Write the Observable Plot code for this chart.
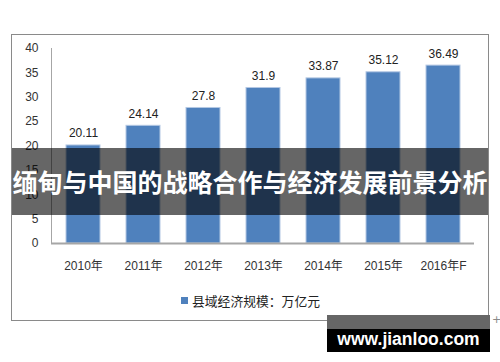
<!DOCTYPE html>
<html>
<head>
<meta charset="utf-8">
<script src="https://cdn.jsdelivr.net/npm/d3@7"></script>
<script src="https://cdn.jsdelivr.net/npm/@observablehq/plot@0.6"></script>
<style>
  html, body { margin: 0; padding: 0; background: #fff; }
  #wrap { position: relative; width: 500px; height: 362px; overflow: hidden; font-family: "Liberation Sans", "Noto Sans CJK SC", sans-serif; }
  #wrap svg { position: absolute; left: 0; top: 0; }
  .box { position: absolute; left: 11px; top: 34px; width: 478px; height: 287px; border: 1px solid #8a8a8a; box-sizing: border-box; }
  .legend { position: absolute; left: 181px; top: 291px; height: 18px; display: flex; align-items: center; font-size: 12.8px; color: #222; font-family: "Noto Sans CJK SC", sans-serif; white-space: nowrap; }
  .legend .sw { width: 7px; height: 7px; background: #4f81bd; margin-right: 4px; }
  .banner { position: absolute; left: 12px; top: 148px; width: 476px; height: 67px; background: rgba(0,0,0,0.6); color: #fff; font-family: "Noto Sans CJK SC", sans-serif; font-weight: bold; font-size: 25px; line-height: 67px; text-align: center; white-space: nowrap; letter-spacing: 0px; }
  .wm-top { position: absolute; left: 327px; top: 315px; width: 163px; height: 14px; background: #666; }
  .wm { position: absolute; left: 327px; top: 329px; width: 163px; height: 23px; background: #000; color: #fff; font-family: "Liberation Sans", sans-serif; font-weight: bold; font-size: 17.5px; line-height: 20px; text-align: center; white-space: nowrap; }
  .plus { position: absolute; left: 492px; top: 313px; font-size: 11px; color: #888; font-family: "DejaVu Sans", sans-serif; }
</style>
</head>
<body>
<div id="wrap"></div>
<script>
const years = ["2010年", "2011年", "2012年", "2013年", "2014年", "2015年", "2016年F"];
const values = [20.11, 24.14, 27.8, 31.9, 33.87, 35.12, 36.49];
const valueLabels = ["20.11", "24.14", "27.8", "31.9", "33.87", "35.12", "36.49"];
const yTicks = [0, 5, 10, 15, 20, 25, 30, 35, 40];
const legendLabel = "县域经济规模：万亿元";
const titleText = "缅甸与中国的战略合作与经济发展前景分析";
const watermarkText = "www.jianloo.com";

const data = years.map((y, i) => ({year: y, value: values[i], label: valueLabels[i]}));

const wrap = document.getElementById("wrap");

const box = document.createElement("div");
box.className = "box";
wrap.appendChild(box);

const chart = Plot.plot({
  width: 500,
  height: 362,
  marginTop: 48,
  marginBottom: 119,
  marginLeft: 51,
  marginRight: 26,
  style: {fontSize: "12px", fontFamily: "'Liberation Sans', 'Noto Sans CJK SC', sans-serif", color: "#333", background: "transparent", overflow: "visible"},
  x: {domain: years, paddingInner: 0.435, paddingOuter: 0.233, label: null},
  y: {domain: [0, 40], label: null},
  marks: [
    Plot.barY(data, {x: "year", y: "value", fill: "#4f81bd", stroke: "#b4c8e3", strokeWidth: 1}),
    Plot.frame({anchor: "left", stroke: "#a6a6a6"}),
    Plot.ruleY([0], {stroke: "#a6a6a6", strokeWidth: 2}),
    Plot.text(data, {x: "year", y: "value", text: "label", dy: -8, lineAnchor: "bottom", fontSize: 12, fill: "#222"}),
    Plot.axisY({ticks: yTicks, tickSize: 0, tickPadding: 13, label: null}),
    Plot.axisX({tickSize: 0, tickPadding: 18, label: null})
  ]
});
wrap.appendChild(chart);

const legend = document.createElement("div");
legend.className = "legend";
legend.innerHTML = `<span class="sw"></span><span></span>`;
legend.lastChild.textContent = legendLabel;
wrap.appendChild(legend);

const banner = document.createElement("div");
banner.className = "banner";
banner.textContent = titleText;
wrap.appendChild(banner);

const wmTop = document.createElement("div");
wmTop.className = "wm-top";
wrap.appendChild(wmTop);
const wm = document.createElement("div");
wm.className = "wm";
wm.textContent = watermarkText;
wrap.appendChild(wm);

const plus = document.createElement("div");
plus.className = "plus";
plus.textContent = "+";
wrap.appendChild(plus);
</script>
</body>
</html>
